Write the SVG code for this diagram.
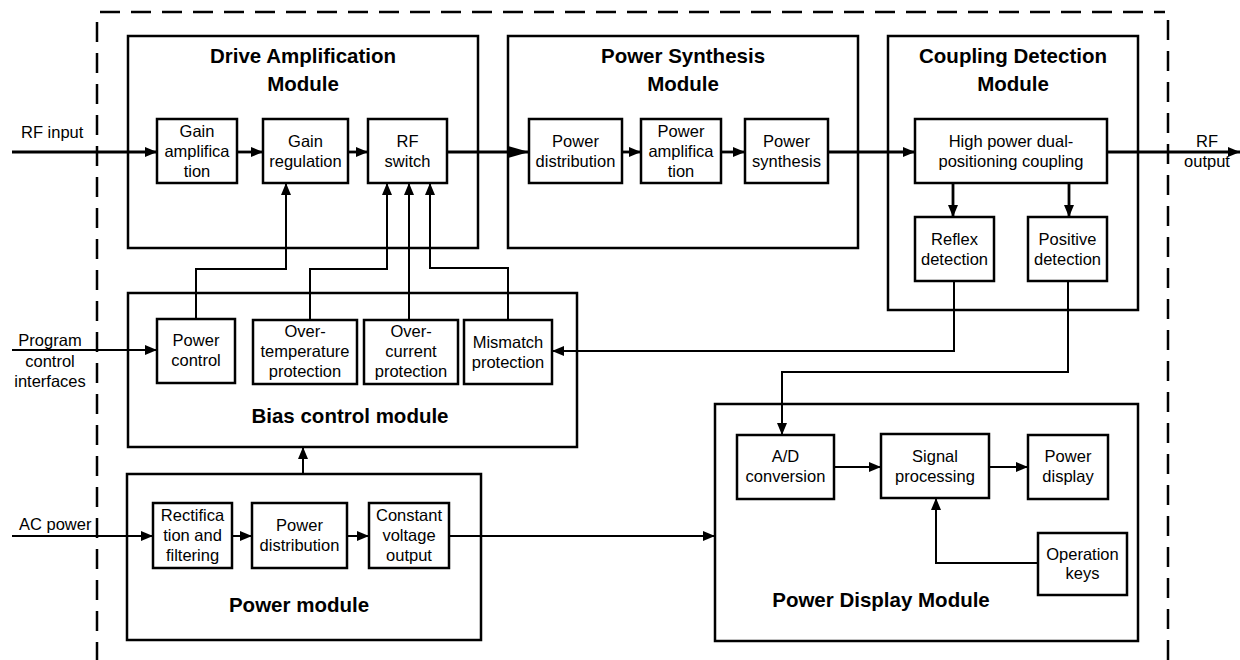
<svg xmlns="http://www.w3.org/2000/svg" width="1240" height="660" viewBox="0 0 1240 660">
<defs>
<style>
.mod{fill:none;stroke:#000;stroke-width:2.5}
.box{fill:#fff;stroke:#000;stroke-width:2.5}
.t{font-family:"Liberation Sans",Arial,sans-serif;font-size:16.5px;fill:#000;text-anchor:middle}
.tl{font-family:"Liberation Sans",Arial,sans-serif;font-size:16.5px;fill:#000}
.h{font-family:"Liberation Sans",Arial,sans-serif;font-size:20.5px;font-weight:bold;fill:#000;text-anchor:middle}
.c{fill:none;stroke:#000;stroke-width:2}
.rf{fill:none;stroke:#000;stroke-width:2.8}
.dash{fill:none;stroke:#000;stroke-width:2.5;stroke-dasharray:20 11}
</style>
<marker id="a" markerUnits="userSpaceOnUse" markerWidth="12" markerHeight="10" refX="12" refY="5" orient="auto"><path d="M0,0 L12,5 L0,10 z" fill="#000"/></marker>
<marker id="b" markerUnits="userSpaceOnUse" markerWidth="21" markerHeight="12" refX="21" refY="6" orient="auto"><path d="M0,0 L21,6 L0,12 z" fill="#000"/></marker>
</defs>
<rect width="1240" height="660" fill="#fff"/>
<g id="border">
<line class="dash" x1="100" y1="12" x2="1165" y2="12"/>
<line class="dash" x1="97" y1="22" x2="97" y2="660"/>
<line class="dash" x1="1168" y1="20" x2="1168" y2="660"/>
</g>
<g id="drive-module">
<rect class="mod" x="128" y="36" width="350" height="212"/>
<text class="h" x="303" y="63">Drive Amplification</text>
<text class="h" x="303" y="91">Module</text>
</g>
<g id="gain-amp"><rect class="box" x="157" y="119" width="80" height="64"/><text class="t" x="197" y="137">Gain</text><text class="t" x="197" y="157">amplifica</text><text class="t" x="197" y="177">tion</text></g>
<g id="gain-reg"><rect class="box" x="263" y="119" width="85" height="64"/><text class="t" x="305.5" y="147">Gain</text><text class="t" x="305.5" y="167">regulation</text></g>
<g id="rf-switch"><rect class="box" x="368" y="119" width="79" height="64"/><text class="t" x="407.5" y="147">RF</text><text class="t" x="407.5" y="167">switch</text></g>
<g id="synth-module">
<rect class="mod" x="508" y="36" width="350" height="212"/>
<text class="h" x="683" y="63">Power Synthesis</text>
<text class="h" x="683" y="91">Module</text>
</g>
<g id="pwr-dist"><rect class="box" x="529" y="119" width="93" height="64"/><text class="t" x="575.5" y="147">Power</text><text class="t" x="575.5" y="167">distribution</text></g>
<g id="pwr-amp"><rect class="box" x="641" y="119" width="80" height="64"/><text class="t" x="681" y="137">Power</text><text class="t" x="681" y="157">amplifica</text><text class="t" x="681" y="177">tion</text></g>
<g id="pwr-synth"><rect class="box" x="745" y="119" width="83" height="64"/><text class="t" x="786.5" y="147">Power</text><text class="t" x="786.5" y="167">synthesis</text></g>
<g id="coupling-module">
<rect class="mod" x="888" y="36" width="250" height="274"/>
<text class="h" x="1013" y="63">Coupling Detection</text>
<text class="h" x="1013" y="91">Module</text>
</g>
<g id="hp-coupling"><rect class="box" x="915" y="119" width="192" height="64"/><text class="t" x="1011" y="147">High power dual-</text><text class="t" x="1011" y="167">positioning coupling</text></g>
<g id="reflex"><rect class="box" x="915" y="217" width="79" height="64"/><text class="t" x="954.5" y="245">Reflex</text><text class="t" x="954.5" y="265">detection</text></g>
<g id="positive"><rect class="box" x="1028" y="217" width="79" height="64"/><text class="t" x="1067.5" y="245">Positive</text><text class="t" x="1067.5" y="265">detection</text></g>
<g id="bias-module">
<rect class="mod" x="128" y="293" width="449" height="154"/>
<text class="h" x="350" y="423">Bias control module</text>
</g>
<g id="pwr-ctrl"><rect class="box" x="157" y="319" width="78" height="64"/><text class="t" x="196" y="346">Power</text><text class="t" x="196" y="366">control</text></g>
<g id="over-temp"><rect class="box" x="253" y="320" width="104" height="64"/><text class="t" x="305" y="337">Over-</text><text class="t" x="305" y="357">temperature</text><text class="t" x="305" y="377">protection</text></g>
<g id="over-cur"><rect class="box" x="364" y="320" width="94" height="64"/><text class="t" x="411" y="337">Over-</text><text class="t" x="411" y="357">current</text><text class="t" x="411" y="377">protection</text></g>
<g id="mismatch"><rect class="box" x="464" y="320" width="88" height="64"/><text class="t" x="508" y="348">Mismatch</text><text class="t" x="508" y="368">protection</text></g>
<g id="power-module">
<rect class="mod" x="127" y="474" width="354" height="166"/>
<text class="h" x="299" y="612">Power module</text>
</g>
<g id="rectif"><rect class="box" x="153" y="503" width="79" height="65"/><text class="t" x="192.5" y="521">Rectifica</text><text class="t" x="192.5" y="541">tion and</text><text class="t" x="192.5" y="561">filtering</text></g>
<g id="pm-dist"><rect class="box" x="252" y="503" width="95" height="65"/><text class="t" x="299.5" y="531">Power</text><text class="t" x="299.5" y="551">distribution</text></g>
<g id="const-v"><rect class="box" x="369" y="503" width="80" height="65"/><text class="t" x="409" y="521">Constant</text><text class="t" x="409" y="541">voltage</text><text class="t" x="409" y="561">output</text></g>
<g id="display-module">
<rect class="mod" x="715" y="404" width="423" height="237"/>
<text class="h" x="881" y="607">Power Display Module</text>
</g>
<g id="ad"><rect class="box" x="737" y="435" width="97" height="64"/><text class="t" x="785.5" y="462">A/D</text><text class="t" x="785.5" y="482">conversion</text></g>
<g id="signal"><rect class="box" x="881" y="434" width="108" height="64"/><text class="t" x="935" y="462">Signal</text><text class="t" x="935" y="482">processing</text></g>
<g id="pwr-display"><rect class="box" x="1028" y="435" width="80" height="64"/><text class="t" x="1068" y="462">Power</text><text class="t" x="1068" y="482">display</text></g>
<g id="op-keys"><rect class="box" x="1038" y="533" width="89" height="62"/><text class="t" x="1082.5" y="560">Operation</text><text class="t" x="1082.5" y="579">keys</text></g>
<g id="labels">
<text class="tl" x="21" y="138">RF input</text>
<text class="t" x="1207" y="147">RF</text>
<text class="t" x="1207" y="167">output</text>
<text class="t" x="50" y="346">Program</text>
<text class="t" x="50" y="367">control</text>
<text class="t" x="50" y="387">interfaces</text>
<text class="tl" x="19" y="530">AC power</text>
</g>
<g id="connectors">
<path class="rf" d="M12,152 H157" marker-end="url(#a)"/>
<path class="rf" d="M237,152 H263" marker-end="url(#a)"/>
<path class="rf" d="M348,152 H368" marker-end="url(#a)"/>
<path class="rf" d="M447,152 H529" marker-end="url(#b)"/>
<path class="rf" d="M622,152 H641" marker-end="url(#a)"/>
<path class="rf" d="M721,152 H745" marker-end="url(#a)"/>
<path class="rf" d="M828,152 H915" marker-end="url(#a)"/>
<path class="rf" d="M1107,152 H1240" marker-end="url(#a)"/>
<path class="rf" d="M953,183 V217" marker-end="url(#a)"/>
<path class="rf" d="M1069,183 V217" marker-end="url(#a)"/>
<path class="c" d="M196,319 V269 H286 V183" marker-end="url(#a)"/>
<path class="c" d="M310,320 V269 H387 V183" marker-end="url(#a)"/>
<path class="c" d="M409,320 V183" marker-end="url(#a)"/>
<path class="c" d="M508,320 V268 H430 V183" marker-end="url(#a)"/>
<path class="c" d="M12,350 H157" marker-end="url(#a)"/>
<path class="c" d="M954,281 V351 H552" marker-end="url(#a)"/>
<path class="c" d="M1068,281 V372 H782 V435" marker-end="url(#a)"/>
<path class="c" d="M303,474 V447" marker-end="url(#a)"/>
<path class="c" d="M12,536 H153" marker-end="url(#a)"/>
<path class="c" d="M232,536 H252" marker-end="url(#a)"/>
<path class="c" d="M347,536 H369" marker-end="url(#a)"/>
<path class="c" d="M449,536 H715" marker-end="url(#a)"/>
<path class="c" d="M834,467 H881" marker-end="url(#a)"/>
<path class="c" d="M989,467 H1028" marker-end="url(#a)"/>
<path class="c" d="M1038,563 H936 V498" marker-end="url(#a)"/>
</g>
</svg>
